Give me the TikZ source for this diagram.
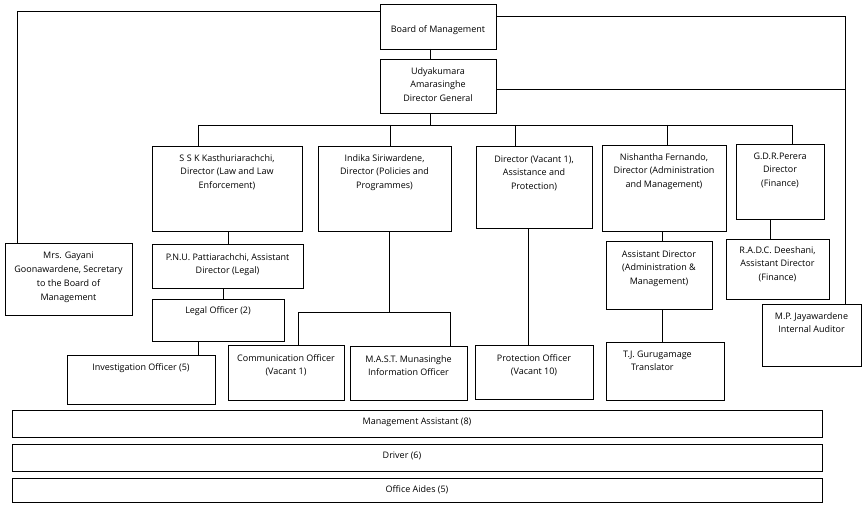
\documentclass[tikz,border=0pt]{standalone}
\usepackage{fontspec}
\setmainfont{Open Sans}
\tikzset{
  orgbx/.style={draw, line width=0.9pt, anchor=north west, inner sep=0pt, outer sep=0pt},
  orgtxt/.style={anchor=north, align=center, inner sep=0pt, font=\fontsize{9}{13.5}\selectfont},
  conn/.style={line width=0.9pt}
}
% #1 first-line centre offset, #2 name, #3 x1, #4 y1, #5 x2, #6 y2, #7 text
\newcommand\orgbox[7][12]{%
  \node[orgbx, minimum width={(#5-#3)*1pt}, minimum height={(#6-#4)*1pt}] (#2) at (#3,#4) {};
  \node[orgtxt] (#2t) at ([yshift={-(#1-3.6)*1pt}]#2.north) {#7};}
\begin{document}
\begin{tikzpicture}[x=1pt,y=-1pt]
\useasboundingbox (0,0) rectangle (867,516);

\orgbox[25]{board}{380}{4}{496}{49}{Board of Management}
\orgbox{dg}{380}{59}{496}{113}{Udyakumara\\Amarasinghe\\Director General}
\orgbox{ssk}{152}{146}{302}{231}{S S K Kasthuriarachchi,\\Director (Law and Law\\Enforcement)}
\orgbox{indika}{318}{146}{451}{231}{Indika Siriwardene,\\Director (Policies and\\Programmes)}
\orgbox[13]{vacant}{476}{146}{592}{228}{Director (Vacant 1),\\Assistance and\\Protection)}
\orgbox{nish}{602}{145}{726}{231}{Nishantha Fernando,\\Director (Administration\\and Management)}
\orgbox{gdr}{736}{144}{824}{219}{G.D.R.Perera\\Director\\(Finance)}
\node[orgbx, minimum width=127pt, minimum height=72pt] (gayani) at (5,243) {};
\node[orgtxt, font=\fontsize{9}{14.2}\selectfont] (gayanit) at ([yshift=-8.4pt]gayani.north) {Mrs. Gayani\\Goonawardene, Secretary\\to the Board of\\Management};
\orgbox[13]{pnu}{152}{244}{303}{288}{P.N.U. Pattiarachchi, Assistant\\Director (Legal)}
\orgbox[11]{legal}{152}{299}{284}{341}{Legal Officer (2)}
\orgbox{invest}{67}{355}{215}{404}{Investigation Officer (5)}
\orgbox[13]{asst}{606}{241}{712}{309}{Assistant Director\\(Administration \&\\Management)}
\orgbox[11]{radc}{726}{239}{829}{299}{R.A.D.C. Deeshani,\\Assistant Director\\(Finance)}
\orgbox{mp}{762}{304}{861}{366}{M.P. Jayawardene\\Internal Auditor}
\orgbox[13]{comm}{228}{345}{344}{400}{Communication Officer\\(Vacant 1)}
\orgbox[13]{mast}{350}{346}{467}{400}{M.A.S.T. Munasinghe\\Information Officer}
\orgbox[13]{prot}{475}{345}{593}{399}{Protection Officer\\(Vacant 10)}
\node[orgbx, minimum width=118pt, minimum height=58pt] (tj) at (606,342) {};
\node[orgtxt, anchor=north west, align=left] (tjt) at ([xshift=17pt,yshift=-8.4pt]tj.north west) {T.J. Gurugamage\\\hspace{8pt}Translator};
\orgbox[11]{ma}{12}{410}{822}{437}{Management Assistant (8)}
\node[orgbx, minimum width=810pt, minimum height=27pt] (drv) at (12,444) {};
\node[orgtxt] (drvt) at ([xshift=-15pt,yshift=-7.4pt]drv.north) {Driver (6)};
\orgbox[11]{oa}{12}{478}{822}{502}{Office Aides (5)}

% right-hand line to internal auditor and left-hand line to secretary
\coordinate (rline) at ([xshift=83pt]mp.north west);
\draw[conn] ([yshift=-7.7pt]board.north west) -| ([xshift=12.7pt]gayani.north west);
\draw[conn] ([yshift=-12pt]board.north east) -| (rline);
\coordinate (dgr) at ([yshift=-30pt]dg.north east);
\draw[conn] (dgr) -- (dgr -| rline);

% board to DG, DG to bus
\draw[conn] ([xshift=50pt]board.south west) -- ([xshift=50pt]dg.north west);
\coordinate (busy) at (0,125);
\coordinate (dgb) at ([xshift=50pt]dg.south west);
\draw[conn] (dgb) -- (dgb |- busy);
\coordinate (d1) at ([xshift=46pt]ssk.north west);
\coordinate (d2) at ([xshift=72pt]indika.north west);
\coordinate (d3) at ([xshift=39pt]vacant.north west);
\coordinate (d4) at ([xshift=65pt]nish.north west);
\coordinate (d5) at ([xshift=56pt]gdr.north west);
\draw[conn] (d1 |- busy) -- (d5 |- busy);
\foreach \d in {d1,d2,d3,d4,d5} \draw[conn] (\d |- busy) -- (\d);

% legal branch
\draw[conn] ([xshift=76pt]ssk.south west) -- ([xshift=76pt]pnu.north west);
\draw[conn] ([xshift=71pt]pnu.south west) -- ([xshift=71pt]legal.north west);
\draw[conn] ([xshift=46pt]legal.south west) -- ([xshift=131pt]invest.north west);

% policies branch
\coordinate (ib) at ([xshift=71pt]indika.south west);
\coordinate (cy) at (0,312);
\coordinate (ct) at ([xshift=70pt]comm.north west);
\coordinate (mt) at ([xshift=100pt]mast.north west);
\draw[conn] (ib) -- (ib |- cy);
\draw[conn] (ct) -- (ct |- cy) -- (mt |- cy) -- (mt);

% protection branch
\coordinate (vb) at ([xshift=52pt]vacant.south west);
\draw[conn] (vb) -- (vb |- prot.north);

% administration branch
\coordinate (nb) at ([xshift=60pt]nish.south west);
\draw[conn] (nb) -- (nb |- asst.north);
\coordinate (ab) at ([xshift=56pt]asst.south west);
\draw[conn] (ab) -- (ab |- tj.north);

% finance branch
\coordinate (gb) at ([xshift=34pt]gdr.south west);
\draw[conn] (gb) -- (gb |- radc.north);
\end{tikzpicture}
\end{document}
